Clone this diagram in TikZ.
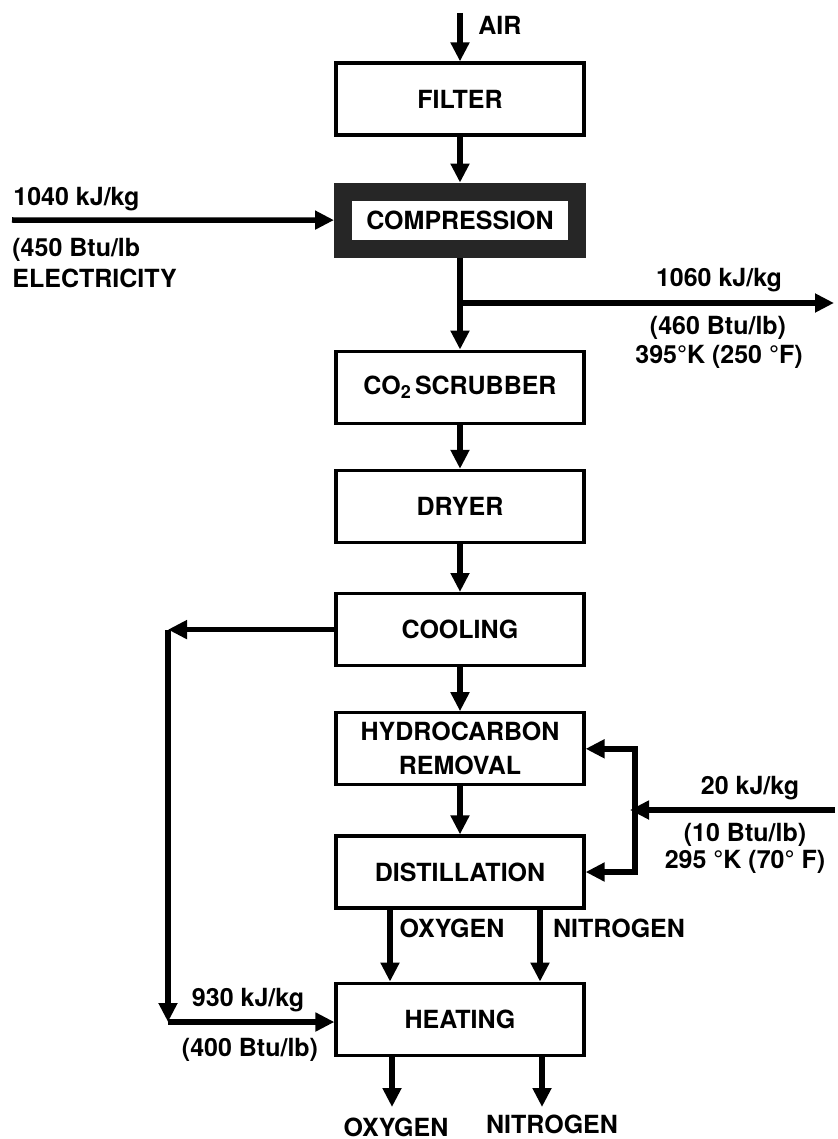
\documentclass[tikz,border=0pt]{standalone}
\usepackage{fontspec}
\setmainfont{TeX Gyre Heros}
\usetikzlibrary{arrows.meta,positioning}
\tikzset{
  block/.style={
    rectangle, draw, line width=1.6pt,
    minimum width=124pt, minimum height=36pt,
    align=center, font=\bfseries\fontsize{12.5}{17}\selectfont
  },
  hotblock/.style={
    rectangle, draw=black!85, line width=9pt, fill=white,
    minimum width=117pt, minimum height=28.5pt,
    align=center, font=\bfseries\fontsize{12.5}{17}\selectfont
  },
  arrow/.style={-{Triangle[width=9pt,length=9.5pt]}, line width=2.75pt},
  lbl/.style={inner sep=0pt, font=\bfseries\fontsize{12.5}{17}\selectfont}
}

\begin{document}
\begin{tikzpicture}[x=0.5pt, y=-0.5pt]
\useasboundingbox (0,0) rectangle (837,1139);

% ── Main chain ───────────────────────────────────────────────────────────────
\node[block] (filter) at (460,99) {FILTER};
\node[hotblock, below=23pt of filter] (comp) {COMPRESSION};
\node[block, below=46pt of comp] (co2)
  {CO\raisebox{-0.35ex}{\fontsize{9}{9}\selectfont 2}\,SCRUBBER};
\node[block, below=22pt of co2] (dryer) {DRYER};
\node[block, below=24pt of dryer] (cool) {COOLING};
\node[block, below=22pt of cool] (hc) {HYDROCARBON\\REMOVAL};
\node[block, below=24pt of hc] (dist) {DISTILLATION};
\node[block, below=36pt of dist] (heat) {HEATING};

\draw[arrow] (filter) -- (comp);
\draw[arrow] (comp) -- (co2);
\draw[arrow] (co2) -- (dryer);
\draw[arrow] (dryer) -- (cool);
\draw[arrow] (cool) -- (hc);
\draw[arrow] (hc) -- (dist);

% Air in
\coordinate (airin) at (460,13);
\draw[arrow] (airin) -- (filter);
\node[lbl, anchor=west] (airlbl) at (478,25) {AIR};

% Electricity in
\coordinate (elecin) at (12,220);
\draw[arrow] (elecin) -- (comp.west);
\node[lbl, anchor=west] (eleca) at (13,199) {1040 kJ/kg};
\node[lbl, anchor=west] (elecb) at (12,250) {(450 Btu/lb};
\node[lbl, anchor=west] (elecc) at (12,278) {ELECTRICITY};

% Heat out after compression
\coordinate (hotout) at (834,303);
\draw[arrow] (comp.south |- hotout) -- (hotout);
\node[lbl] (hota) at (719,280) {1060 kJ/kg};
\node[lbl] (hotb) at (718,328) {(460 Btu/lb)};
\node[lbl] (hotc) at (719,357) {395°K (250 °F)};

% Cooling loop to heating
\coordinate (loopb) at (168,1022);
\draw[arrow] (cool.west) -- (cool.west -| loopb);
\draw[arrow] (cool.west -| loopb) -- (loopb);
\draw[arrow] (loopb) -- (loopb -| heat.west);
\node[lbl] (loopa) at (248,1000) {930 kJ/kg};
\node[lbl] (loopc) at (250,1050) {(400 Btu/lb)};

% Cold in to hydrocarbon removal and distillation
\coordinate (coldin) at (835,810);
\coordinate (coldbus) at (635,810);
\draw[arrow, shorten >=-2.5pt] (coldin) -- (coldbus);
\draw[arrow] (coldbus) |- (hc.east);
\draw[arrow] (coldbus) |- (dist.east);
\node[lbl] (colda) at (750,788) {20 kJ/kg};
\node[lbl] (coldb) at (745,835) {(10 Btu/lb)};
\node[lbl] (coldc) at (745,862) {295 °K (70° F)};

% Products
\draw[arrow] ([xshift=-35pt]dist.south) -- ([xshift=-35pt]heat.north);
\draw[arrow] ([xshift=40pt]dist.south) -- ([xshift=40pt]heat.north);
\node[lbl] (oxa) at (452,928) {OXYGEN};
\node[lbl] (nia) at (619,928) {NITROGEN};

\coordinate (oxout) at (392,1107);
\coordinate (niout) at (542,1107);
\draw[arrow] (heat.south -| oxout) -- (oxout);
\draw[arrow] (heat.south -| niout) -- (niout);
\node[lbl] (oxb) at (396,1127) {OXYGEN};
\node[lbl] (nib) at (552,1124) {NITROGEN};

\end{tikzpicture}
\end{document}
